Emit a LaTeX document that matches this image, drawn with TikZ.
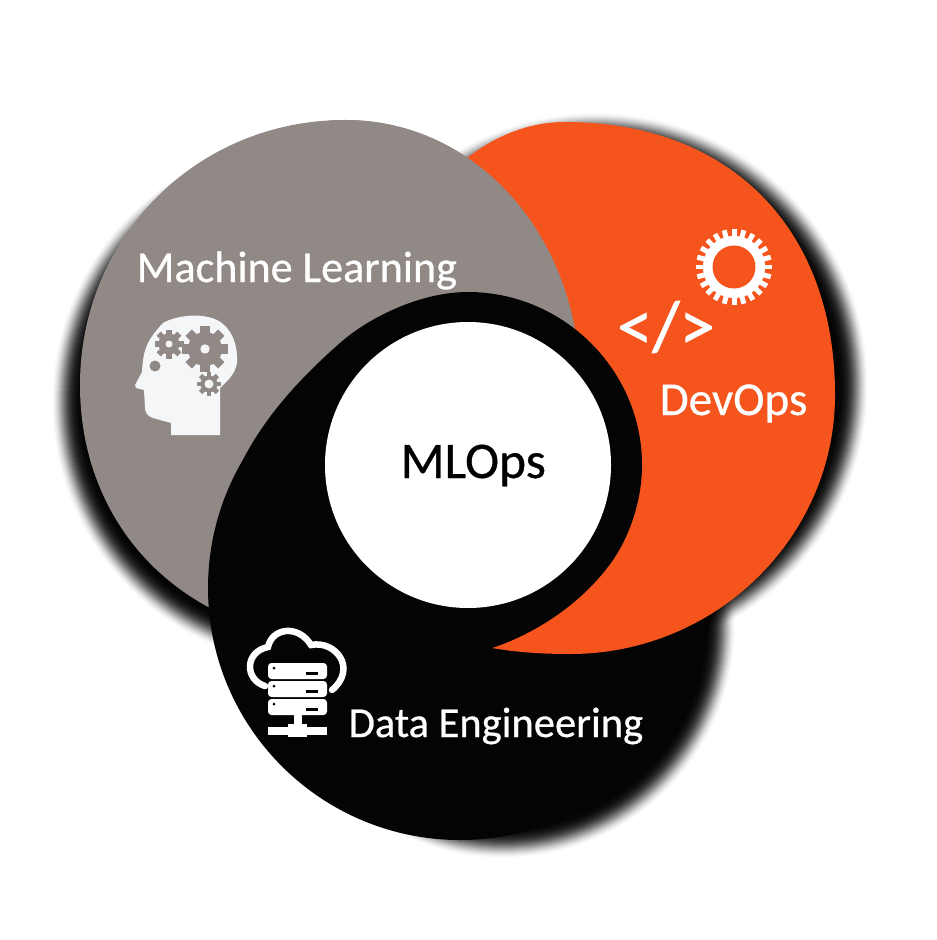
\documentclass[tikz,border=0pt]{standalone}
\usepackage{fontspec}
\setmainfont[FakeBold=0.6]{Carlito}
\newfontfamily\codefont[FakeBold=1.2]{Carlito}
\usepackage{xcolor}
\definecolor{mlgray}{HTML}{918986}
\definecolor{devorange}{HTML}{F5541D}
\definecolor{dataink}{HTML}{040404}
\definecolor{headwhite}{HTML}{F4F6F8}
% shadow as a stack of thin discs, faint at the rim
\newcommand{\softshadow}[3]{
  \foreach \k in {0,...,29} {
    \pgfmathsetmacro{\op}{0.01+0.008*\k}
    \fill[black,opacity=\op] (#1,#2) circle ({#3-\k});
  }
}
% gear: x, y, body radius, tip radius, teeth, hole radius, colour, hole colour
\newcommand{\gearicon}[8]{
  \begin{scope}[shift={(#1,#2)}]
    \fill[#7] (0,0) circle (#3);
    \foreach \k in {1,...,#5}
      \fill[#7,rotate=\k*360/#5] ({-#4*1.57/#5},0) rectangle ({#4*1.57/#5},#4);
    \fill[#8] (0,0) circle (#6);
  \end{scope}
}
\tikzset{
  label/.style={inner sep=0pt,anchor=base west,text=white},
  serverbox/.style={fill=white,rounded corners=1pt},
}
\begin{document}
\begin{tikzpicture}[x=0.01cm,y=-0.01cm]
  \useasboundingbox (0,0) rectangle (936,940);
  % Draw the shadows
  \softshadow{596}{385}{272}
  \softshadow{503}{626}{232}
  \softshadow{316}{402}{264}
  % Draw the circles
  \def\graypath{(345,120) .. controls (477,120) and (580,237) .. (580,385)
    .. controls (580,530) and (477,640) .. (345,640)
    .. controls (191,640) and (80,533) .. (80,385)
    .. controls (80,237) and (197,120) .. (345,120) -- cycle}
  \fill[mlgray] \graypath;
  \fill[dataink] (460,588) circle (252);
  \fill[devorange] (565,122) .. controls (730,122) and (835,228) .. (835,395)
    .. controls (835,537) and (716,654) .. (570,654)
    .. controls (540,654) and (515,652) .. (492,648)
    -- (365,388) .. controls (365,250) and (455,122) .. (565,122) -- cycle;
  \begin{scope}
    \clip (330,100) rectangle (600,340);
    \fill[mlgray] \graypath;
  \end{scope}
  % Draw the swirl and the centre
  \fill[dataink] (210,610) .. controls (212,510) and (235,435) .. (340,343)
    .. controls (368,318) and (420,292) .. (468,292)
    .. controls (563,292) and (642,370) .. (642,465)
    .. controls (642,500) and (630,535) .. (613,560)
    .. controls (585,600) and (540,632) .. (492,648)
    -- (300,720) -- cycle;
  \fill[white] (468,465) circle (143);
  % Draw the head
  \fill[headwhite] (220,435) -- (171,435) -- (171,423) -- (153,418)
    .. controls (147,416) and (145,412) .. (145,408) -- (144,390) -- (136,388)
    -- (135,385) -- (142,372) .. controls (143,350) and (147,340) .. (163,323)
    .. controls (175,316) and (200,312) .. (217,320)
    .. controls (232,328) and (238,345) .. (237,363)
    .. controls (235,375) and (226,382) .. (220,388) -- cycle;
  \gearicon{169}{344}{10.5}{14.5}{8}{3.5}{mlgray}{headwhite}
  \gearicon{205}{349}{17}{23}{8}{4.7}{mlgray}{headwhite}
  \gearicon{209}{384}{8.5}{12}{8}{4.5}{mlgray}{headwhite}
  \fill[mlgray] (155,366) circle (5.5);
  % Draw the orange gear and the code sign
  \gearicon{734}{267}{31}{38}{24}{21.5}{white}{devorange}
  \node[label,anchor=center,font=\fontsize{20}{20}\selectfont\codefont] (code) at (666,327)
    {</>};
  % Draw the cloud and the server
  \draw[white,line width=6.5*0.01cm,line cap=round] (265,686)
    .. controls (245,680) and (244,652) .. (268,647)
    .. controls (272,628) and (298,624) .. (311,645)
    .. controls (335,640) and (358,668) .. (332,690);
  \foreach \y in {663,681,699} {
    \fill[serverbox] (268,\y) rectangle (327,\y+16);
    \fill[black] (274,\y+5) circle (1.5);
    \fill[black] (306,\y+9) rectangle (318,\y+12);
  }
  \fill[white] (294,715) rectangle (302,728);
  \fill[white] (268,727) rectangle (327,735);
  \fill[white] (288,724) rectangle (307,737);
  % Draw the labels
  \node[label,font=\fontsize{12.55}{12.55}\selectfont] (ml) at (136,282) {Machine Learning};
  \node[label,font=\fontsize{13.4}{13.4}\selectfont] (dev) at (659,415) {DevOps};
  \node[label,font=\fontsize{12.1}{12.1}\selectfont] (data) at (348,737) {Data Engineering};
  \node[label,text=black,font=\fontsize{14.6}{14.6}\selectfont] (mlops) at (400,478) {MLOps};
\end{tikzpicture}
\end{document}
